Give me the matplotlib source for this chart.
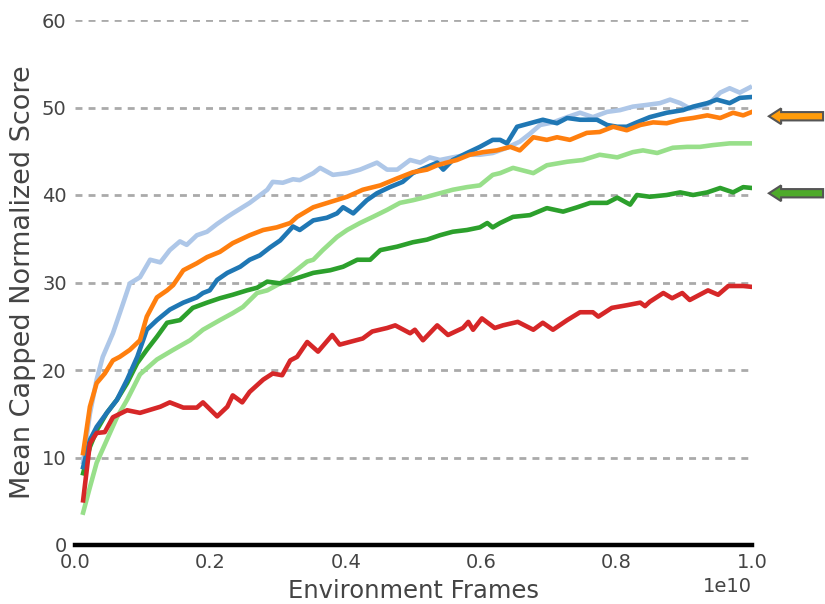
import numpy as np
import matplotlib
matplotlib.use("Agg")
import matplotlib.pyplot as plt
from matplotlib.patches import FancyArrow
import matplotlib.transforms as mtransforms

# Data (x in units of 1e10 frames)

red_x = [0.012, 0.022, 0.032, 0.044, 0.056, 0.077, 0.096, 0.126, 0.140, 0.160, 0.180, 0.189, 0.210,
         0.225, 0.233, 0.247, 0.258, 0.278, 0.292, 0.306, 0.318, 0.328, 0.343, 0.359, 0.380, 0.391,
         0.425, 0.439, 0.461, 0.473, 0.495, 0.502, 0.514, 0.535, 0.551, 0.573, 0.581, 0.588, 0.601,
         0.620, 0.632, 0.654, 0.677, 0.691, 0.706, 0.727, 0.746, 0.765, 0.773, 0.793, 0.815, 0.835,
         0.842, 0.849, 0.869, 0.882, 0.897, 0.908, 0.935, 0.950, 0.965, 0.987, 1.0]
red_y = [5.1, 11.6, 12.8, 12.9, 14.6, 15.4, 15.1, 15.8, 16.3, 15.7, 15.7, 16.3, 14.7,
         15.8, 17.1, 16.3, 17.5, 18.9, 19.6, 19.4, 21.1, 21.5, 23.2, 22.1, 24.0, 22.9,
         23.6, 24.4, 24.8, 25.1, 24.2, 24.6, 23.4, 25.1, 24.0, 24.8, 25.5, 24.6, 25.9,
         24.8, 25.1, 25.5, 24.6, 25.4, 24.6, 25.7, 26.6, 26.6, 26.1, 27.1, 27.4, 27.7,
         27.3, 27.8, 28.8, 28.2, 28.8, 28.0, 29.1, 28.6, 29.6, 29.6, 29.5]

lgreen_x = [0.012, 0.022, 0.032, 0.047, 0.062, 0.077, 0.096, 0.121, 0.145, 0.170, 0.189, 0.214, 0.233,
            0.248, 0.269, 0.284, 0.303, 0.322, 0.343, 0.352, 0.366, 0.387, 0.402, 0.421, 0.440, 0.461,
            0.480, 0.499, 0.520, 0.539, 0.558, 0.579, 0.598, 0.617, 0.628, 0.647, 0.677, 0.697, 0.727,
            0.750, 0.775, 0.801, 0.824, 0.839, 0.860, 0.883, 0.904, 0.923, 0.942, 0.967, 0.997]
lgreen_y = [3.7, 6.6, 9.4, 12.0, 14.6, 16.6, 19.5, 21.2, 22.3, 23.4, 24.6, 25.7, 26.5,
            27.2, 28.8, 29.1, 29.9, 31.1, 32.4, 32.6, 33.7, 35.2, 36.0, 36.8, 37.5, 38.3,
            39.1, 39.4, 39.8, 40.2, 40.6, 40.9, 41.1, 42.3, 42.5, 43.1, 42.5, 43.4, 43.8,
            44.0, 44.6, 44.3, 44.9, 45.1, 44.8, 45.4, 45.5, 45.5, 45.7, 45.9, 45.9]

green_x = [0.012, 0.022, 0.032, 0.047, 0.062, 0.077, 0.092, 0.106, 0.121, 0.136, 0.155, 0.174, 0.195,
           0.214, 0.233, 0.254, 0.269, 0.284, 0.303, 0.328, 0.352, 0.377, 0.396, 0.417, 0.436, 0.451,
           0.476, 0.499, 0.520, 0.539, 0.558, 0.579, 0.598, 0.609, 0.617, 0.628, 0.647, 0.672, 0.697,
           0.721, 0.742, 0.761, 0.786, 0.801, 0.820, 0.830, 0.849, 0.874, 0.894, 0.913, 0.934, 0.953,
           0.972, 0.987, 1.0]
green_y = [8.2, 11.2, 13.1, 15.1, 16.6, 18.5, 20.8, 22.3, 23.8, 25.4, 25.7, 27.1, 27.7,
           28.2, 28.6, 29.1, 29.4, 30.1, 29.9, 30.5, 31.1, 31.4, 31.8, 32.6, 32.6, 33.7,
           34.1, 34.6, 34.9, 35.4, 35.8, 36.0, 36.3, 36.8, 36.3, 36.8, 37.5, 37.7, 38.5,
           38.1, 38.6, 39.1, 39.1, 39.7, 38.9, 40.0, 39.8, 40.0, 40.3, 40.0, 40.3, 40.8,
           40.3, 40.9, 40.8]

orange_x = [0.012, 0.022, 0.032, 0.044, 0.056, 0.066, 0.081, 0.096, 0.106, 0.121, 0.136, 0.145, 0.160,
            0.180, 0.195, 0.214, 0.233, 0.258, 0.278, 0.298, 0.318, 0.328, 0.352, 0.377, 0.402, 0.425,
            0.451, 0.476, 0.499, 0.520, 0.535, 0.549, 0.564, 0.583, 0.603, 0.623, 0.643, 0.657, 0.677,
            0.697, 0.712, 0.731, 0.756, 0.775, 0.795, 0.815, 0.835, 0.854, 0.874, 0.894, 0.913, 0.934,
            0.953, 0.972, 0.987, 1.0]
orange_y = [10.5, 15.8, 18.5, 19.6, 21.1, 21.5, 22.3, 23.4, 26.1, 28.3, 29.1, 29.7, 31.4,
            32.2, 32.9, 33.5, 34.5, 35.4, 36.0, 36.3, 36.8, 37.5, 38.6, 39.2, 39.8, 40.6,
            41.1, 41.9, 42.6, 42.9, 43.4, 43.7, 44.0, 44.6, 44.9, 45.1, 45.5, 45.1, 46.6,
            46.3, 46.6, 46.3, 47.1, 47.2, 47.8, 47.4, 48.0, 48.3, 48.2, 48.6, 48.8, 49.1,
            48.8, 49.4, 49.1, 49.5]

blue_x = [0.012, 0.022, 0.032, 0.047, 0.062, 0.077, 0.092, 0.106, 0.121, 0.140, 0.160, 0.180, 0.189,
          0.199, 0.210, 0.225, 0.244, 0.258, 0.273, 0.288, 0.303, 0.322, 0.332, 0.352, 0.372, 0.387,
          0.396, 0.411, 0.431, 0.446, 0.465, 0.484, 0.499, 0.520, 0.535, 0.544, 0.558, 0.579, 0.598,
          0.617, 0.628, 0.638, 0.653, 0.672, 0.691, 0.712, 0.727, 0.746, 0.771, 0.786, 0.801, 0.815,
          0.830, 0.849, 0.874, 0.898, 0.913, 0.934, 0.948, 0.967, 0.982, 1.0]
blue_y = [8.9, 12.0, 13.5, 15.1, 16.6, 18.9, 21.5, 24.6, 25.7, 26.9, 27.7, 28.3, 28.8,
          29.1, 30.3, 31.1, 31.8, 32.6, 33.1, 34.0, 34.8, 36.4, 36.0, 37.1, 37.4, 37.9,
          38.6, 37.9, 39.4, 40.2, 40.9, 41.5, 42.5, 43.2, 43.7, 42.9, 44.0, 44.8, 45.5,
          46.3, 46.3, 45.9, 47.8, 48.2, 48.6, 48.2, 48.8, 48.6, 48.6, 48.0, 47.8, 47.8,
          48.3, 48.9, 49.4, 49.7, 50.1, 50.5, 50.9, 50.5, 51.1, 51.2]

lblue_x = [0.012, 0.022, 0.032, 0.041, 0.056, 0.071, 0.081, 0.096, 0.111, 0.126, 0.140, 0.155, 0.165,
           0.180, 0.195, 0.210, 0.225, 0.233, 0.258, 0.284, 0.292, 0.307, 0.322, 0.332, 0.352, 0.362,
           0.381, 0.402, 0.421, 0.446, 0.461, 0.476, 0.495, 0.510, 0.524, 0.539, 0.558, 0.579, 0.598,
           0.617, 0.638, 0.657, 0.672, 0.687, 0.706, 0.727, 0.746, 0.765, 0.786, 0.805, 0.824, 0.845,
           0.864, 0.879, 0.894, 0.908, 0.923, 0.938, 0.953, 0.967, 0.982, 0.997]
lblue_y = [9.5, 15.0, 18.9, 21.5, 24.2, 27.6, 29.9, 30.6, 32.6, 32.3, 33.7, 34.7, 34.3,
           35.4, 35.8, 36.7, 37.5, 37.9, 39.1, 40.6, 41.5, 41.4, 41.8, 41.7, 42.5, 43.1,
           42.3, 42.5, 42.9, 43.7, 42.9, 42.9, 44.0, 43.7, 44.3, 44.0, 44.3, 44.6, 44.6,
           44.8, 45.4, 46.1, 47.0, 48.0, 48.3, 48.9, 49.4, 48.9, 49.5, 49.7, 50.1, 50.3,
           50.5, 50.9, 50.5, 49.9, 50.1, 50.5, 51.7, 52.2, 51.7, 52.3]

y_ticks = [0, 10, 20, 30, 40, 50, 60]
arrow_levels = [49.0, 40.2]
arrow_colors = ['#ff9c0a', '#4eaa2a']

text_color = '#444444'
plt.rcParams['font.family'] = 'DejaVu Sans'

fig = plt.figure(figsize=(8.25, 6.04), dpi=100)
ax = fig.add_axes([75/825, 1 - 545/604, 677/825, 525/604])

series = [
    (lgreen_x, lgreen_y, '#98df8a'),
    (lblue_x, lblue_y, '#aec7e8'),
    (green_x, green_y, '#2ca02c'),
    (blue_x, blue_y, '#1f77b4'),
    (orange_x, orange_y, '#ff7f0e'),
    (red_x, red_y, '#d62728'),
]
for xs, ys, c in series:
    ax.plot(np.array(xs) * 1e10, ys, color=c, linewidth=3.3, solid_joinstyle='round')

ax.set_xlim(0, 1e10)
ax.set_ylim(0, 60)
ax.set_yticks(y_ticks)
ax.set_xticks(np.linspace(0, 1e10, 6))

for y in y_ticks[1:]:
    ax.axhline(y, color='#aaaaaa', linewidth=2.0, linestyle=(0, (2.5, 2.2)), zorder=0)

for side in ['top', 'right', 'left']:
    ax.spines[side].set_visible(False)
ax.spines['bottom'].set_linewidth(3.2)
ax.spines['bottom'].set_color('black')

ax.tick_params(axis='both', length=0, labelsize=14, labelcolor=text_color, pad=6)
ax.xaxis.get_offset_text().set_fontsize(14)
ax.xaxis.get_offset_text().set_color(text_color)

ax.set_xlabel('Environment Frames', fontsize=17.5, color=text_color, labelpad=5)
ax.set_ylabel('Mean Capped Normalized Score', fontsize=19.5, color=text_color, labelpad=4)

# arrows to the right of the axes
trans = mtransforms.blended_transform_factory(ax.transAxes, ax.transData)
for lvl, col in zip(arrow_levels, arrow_colors):
    arr = FancyArrow(1.105, lvl, -0.08, 0, width=0.95, head_width=1.8, head_length=0.018,
                     length_includes_head=True, transform=trans, clip_on=False,
                     facecolor=col, edgecolor='#555555', linewidth=1.5)
    ax.add_patch(arr)

fig.savefig('out.png', dpi=100)
